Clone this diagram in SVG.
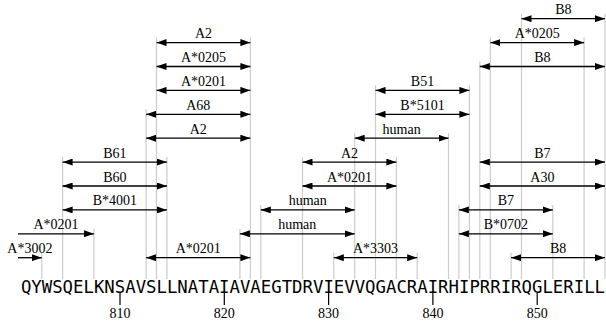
<svg xmlns="http://www.w3.org/2000/svg" width="606" height="327" viewBox="0 0 606 327">
<style>
.g{stroke:#cccccc;stroke-width:1.2}
.a{stroke:#000;stroke-width:1.3;fill:none;marker-start:url(#ah);marker-end:url(#ah)}
.a1{stroke:#000;stroke-width:1.3;fill:none;marker-end:url(#ah)}
.l{font-family:"Liberation Serif",serif;font-size:14px;text-anchor:middle;fill:#000}
.t{stroke:#000;stroke-width:1.2}
</style>
<defs>
<marker id="ah" viewBox="0 0 10 7" refX="10" refY="3.5" markerWidth="10" markerHeight="7" markerUnits="userSpaceOnUse" orient="auto-start-reverse"><path d="M0,0 L10,3.5 L0,7 z" fill="#000"/></marker>
</defs>
<rect width="606" height="327" fill="#fff"/>
<g id="guides">
<line class="g" x1="521.5" y1="13.7" x2="521.5" y2="279"/><line class="g" x1="605" y1="13.7" x2="605" y2="279"/>
<line class="g" x1="156.5" y1="37.6" x2="156.5" y2="279"/><line class="g" x1="250.4" y1="37.6" x2="250.4" y2="279"/>
<line class="g" x1="490.3" y1="37.6" x2="490.3" y2="279"/><line class="g" x1="584.1" y1="37.6" x2="584.1" y2="279"/>
<line class="g" x1="479.8" y1="61.5" x2="479.8" y2="279"/>
<line class="g" x1="375.5" y1="85.4" x2="375.5" y2="279"/><line class="g" x1="469.4" y1="85.4" x2="469.4" y2="279"/>
<line class="g" x1="146.1" y1="109.3" x2="146.1" y2="279"/>
<line class="g" x1="354.7" y1="133.2" x2="354.7" y2="279"/><line class="g" x1="448.5" y1="133.2" x2="448.5" y2="279"/>
<line class="g" x1="62.6" y1="157.1" x2="62.6" y2="279"/><line class="g" x1="166.9" y1="157.1" x2="166.9" y2="279"/>
<line class="g" x1="302.5" y1="157.1" x2="302.5" y2="279"/><line class="g" x1="396.4" y1="157.1" x2="396.4" y2="279"/>
<line class="g" x1="260.8" y1="204.9" x2="260.8" y2="279"/>
<line class="g" x1="458.9" y1="204.9" x2="458.9" y2="279"/><line class="g" x1="552.8" y1="204.9" x2="552.8" y2="279"/>
<line class="g" x1="93.9" y1="228.8" x2="93.9" y2="279"/><line class="g" x1="239.9" y1="228.8" x2="239.9" y2="279"/>
<line class="g" x1="41.8" y1="252.7" x2="41.8" y2="279"/>
<line class="g" x1="333.8" y1="252.7" x2="333.8" y2="279"/><line class="g" x1="417.2" y1="252.7" x2="417.2" y2="279"/>
<line class="g" x1="511.1" y1="252.7" x2="511.1" y2="279"/>
</g>
<g id="epitopes">
<g id="e-B8-top"><line class="a" x1="521.5" y1="18.7" x2="605" y2="18.7"/><text class="l" x="563.3" y="14.2">B8</text></g>
<g id="e-A2-1"><line class="a" x1="156.5" y1="42.6" x2="250.4" y2="42.6"/><text class="l" x="203.5" y="38.1">A2</text></g>
<g id="e-A0205-r"><line class="a" x1="490.3" y1="42.6" x2="584.1" y2="42.6"/><text class="l" x="537.2" y="38.1">A*0205</text></g>
<g id="e-A0205-l"><line class="a" x1="156.5" y1="66.5" x2="250.4" y2="66.5"/><text class="l" x="203.5" y="62">A*0205</text></g>
<g id="e-B8-2"><line class="a" x1="479.8" y1="66.5" x2="605" y2="66.5"/><text class="l" x="542.4" y="62">B8</text></g>
<g id="e-A0201-1"><line class="a" x1="156.5" y1="90.4" x2="250.4" y2="90.4"/><text class="l" x="203.5" y="85.9">A*0201</text></g>
<g id="e-B51"><line class="a" x1="375.5" y1="90.4" x2="469.4" y2="90.4"/><text class="l" x="422.5" y="85.9">B51</text></g>
<g id="e-A68"><line class="a" x1="146.1" y1="114.3" x2="250.4" y2="114.3"/><text class="l" x="198.3" y="109.8">A68</text></g>
<g id="e-B5101"><line class="a" x1="375.5" y1="114.3" x2="469.4" y2="114.3"/><text class="l" x="422.5" y="109.8">B*5101</text></g>
<g id="e-A2-2"><line class="a" x1="146.1" y1="138.2" x2="250.4" y2="138.2"/><text class="l" x="198.3" y="133.7">A2</text></g>
<g id="e-human-1"><line class="a" x1="354.7" y1="138.2" x2="448.5" y2="138.2"/><text class="l" x="401.6" y="133.7">human</text></g>
<g id="e-B61"><line class="a" x1="62.6" y1="162.1" x2="166.9" y2="162.1"/><text class="l" x="114.8" y="157.6">B61</text></g>
<g id="e-A2-3"><line class="a" x1="302.5" y1="162.1" x2="396.4" y2="162.1"/><text class="l" x="349.5" y="157.6">A2</text></g>
<g id="e-B7-1"><line class="a" x1="479.8" y1="162.1" x2="605" y2="162.1"/><text class="l" x="542.4" y="157.6">B7</text></g>
<g id="e-B60"><line class="a" x1="62.6" y1="186" x2="166.9" y2="186"/><text class="l" x="114.8" y="181.5">B60</text></g>
<g id="e-A0201-2"><line class="a" x1="302.5" y1="186" x2="396.4" y2="186"/><text class="l" x="349.5" y="181.5">A*0201</text></g>
<g id="e-A30"><line class="a" x1="479.8" y1="186" x2="605" y2="186"/><text class="l" x="542.4" y="181.5">A30</text></g>
<g id="e-B4001"><line class="a" x1="62.6" y1="209.9" x2="166.9" y2="209.9"/><text class="l" x="114.8" y="205.4">B*4001</text></g>
<g id="e-human-2"><line class="a" x1="260.8" y1="209.9" x2="354.7" y2="209.9"/><text class="l" x="307.8" y="205.4">human</text></g>
<g id="e-B7-2"><line class="a" x1="458.9" y1="209.9" x2="552.8" y2="209.9"/><text class="l" x="505.9" y="205.4">B7</text></g>
<g id="e-A0201-3"><line class="a1" x1="18" y1="233.8" x2="93.9" y2="233.8"/><text class="l" x="56" y="229.3">A*0201</text></g>
<g id="e-human-3"><line class="a" x1="239.9" y1="233.8" x2="354.7" y2="233.8"/><text class="l" x="297.3" y="229.3">human</text></g>
<g id="e-B0702"><line class="a" x1="458.9" y1="233.8" x2="552.8" y2="233.8"/><text class="l" x="505.9" y="229.3">B*0702</text></g>
<g id="e-A3002"><line class="a1" x1="18" y1="257.7" x2="41.8" y2="257.7"/><text class="l" x="29.9" y="253.2">A*3002</text></g>
<g id="e-A0201-4"><line class="a" x1="146.1" y1="257.7" x2="250.4" y2="257.7"/><text class="l" x="198.3" y="253.2">A*0201</text></g>
<g id="e-A3303"><line class="a" x1="333.8" y1="257.7" x2="417.2" y2="257.7"/><text class="l" x="375.5" y="253.2">A*3303</text></g>
<g id="e-B8-3"><line class="a" x1="511.1" y1="257.7" x2="605" y2="257.7"/><text class="l" x="558.1" y="253.2">B8</text></g>
</g>
<g id="sequence">
<text x="20.9" y="293" font-family="'DejaVu Sans Mono',monospace" font-size="17.32" textLength="584.1" lengthAdjust="spacing">QYWSQELKNSAVSLLNATAIAVAEGTDRVIEVVQGACRAIRHIPRRIRQGLERILL</text>
</g>
<g id="ticks">
<line class="t" x1="120" y1="293" x2="120" y2="305"/><text class="l" x="120" y="318">810</text>
<line class="t" x1="224.3" y1="293" x2="224.3" y2="305"/><text class="l" x="224.3" y="318">820</text>
<line class="t" x1="328.6" y1="293" x2="328.6" y2="305"/><text class="l" x="328.6" y="318">830</text>
<line class="t" x1="432.9" y1="293" x2="432.9" y2="305"/><text class="l" x="432.9" y="318">840</text>
<line class="t" x1="537.2" y1="293" x2="537.2" y2="305"/><text class="l" x="537.2" y="318">850</text>
</g>
</svg>
